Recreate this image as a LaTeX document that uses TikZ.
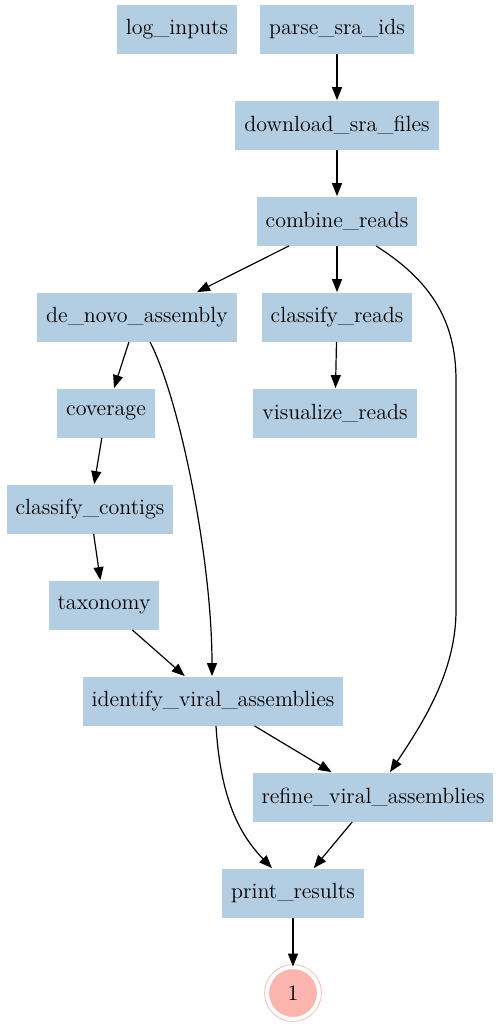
\documentclass[tikz,border=0pt]{standalone}
\usetikzlibrary{arrows.meta,calc}
\definecolor{boxblue}{HTML}{B3CDE3}
\definecolor{endpink}{HTML}{FBB4AE}
\begin{document}
\begin{tikzpicture}[x=0.5pt, y=-0.5pt,
  every node/.style = {font=\fontsize{11pt}{13pt}\selectfont},
  job/.style = {shape=rectangle, fill=boxblue, minimum height=24.5pt,
    inner xsep=4.5pt, inner ysep=0pt},
  target/.style = {shape=circle, fill=endpink, draw=endpink, double=white,
    double distance=2pt, minimum size=26pt, inner sep=0pt},
  dep/.style = {draw, line width=0.6pt, -{Triangle[length=6.5pt,width=5pt]}}
  ]
  \useasboundingbox (0,0) rectangle (501,1029);
  \node[job] (li)  at (177,29)  {log\_inputs};
  \node[job] (ps)  at (337,29)  {parse\_sra\_ids};
  \node[job] (dl)  at (337,125) {download\_sra\_files};
  \node[job] (cr)  at (337,221) {combine\_reads};
  \node[job] (dn)  at (137,317) {de\_novo\_assembly};
  \node[job] (crd) at (337,317) {classify\_reads};
  \node[job] (cv)  at (106,413) {coverage};
  \node[job] (vr)  at (335,413) {visualize\_reads};
  \node[job] (cc)  at (90,509)  {classify\_contigs};
  \node[job] (tx)  at (104,605) {taxonomy};
  \node[job] (iv)  at (213,701) {identify\_viral\_assemblies};
  \node[job] (rv)  at (373,797) {refine\_viral\_assemblies};
  \node[job] (pr)  at (293,893) {print\_results};
  \node[target] (fin) at (293,993) {1};

  \path[dep] (ps) -- (dl);
  \path[dep] (dl) -- (cr);
  \path[dep] ($(cr.south)+(-48,0)$) -- ($(dn.north)+(60,0)$);
  \path[dep] (cr) -- (crd);
  \path[dep] ($(cr.south)+(39,0)$) .. controls (430,280) and (456,320) .. (456,380)
    -- (456,610) .. controls (456,670) and (425,720) .. ($(rv.north)+(17,0)$);
  \path[dep] (crd) -- (vr);
  \path[dep] (dn) -- (cv);
  \path[dep] ($(dn.south)+(13,0)$) .. controls (180,400) and (212,560) .. ($(iv.north)+(-1,0)$);
  \path[dep] (cv) -- (cc);
  \path[dep] (cc) -- (tx);
  \path[dep] (tx) -- (iv);
  \path[dep] (iv) -- (rv);
  \path[dep] ($(iv.south)+(3,0)$) .. controls (220,790) and (235,830) .. ($(pr.north)+(-21,0)$);
  \path[dep] (rv) -- (pr);
  \path[dep] (pr) -- (fin);
\end{tikzpicture}
\end{document}
